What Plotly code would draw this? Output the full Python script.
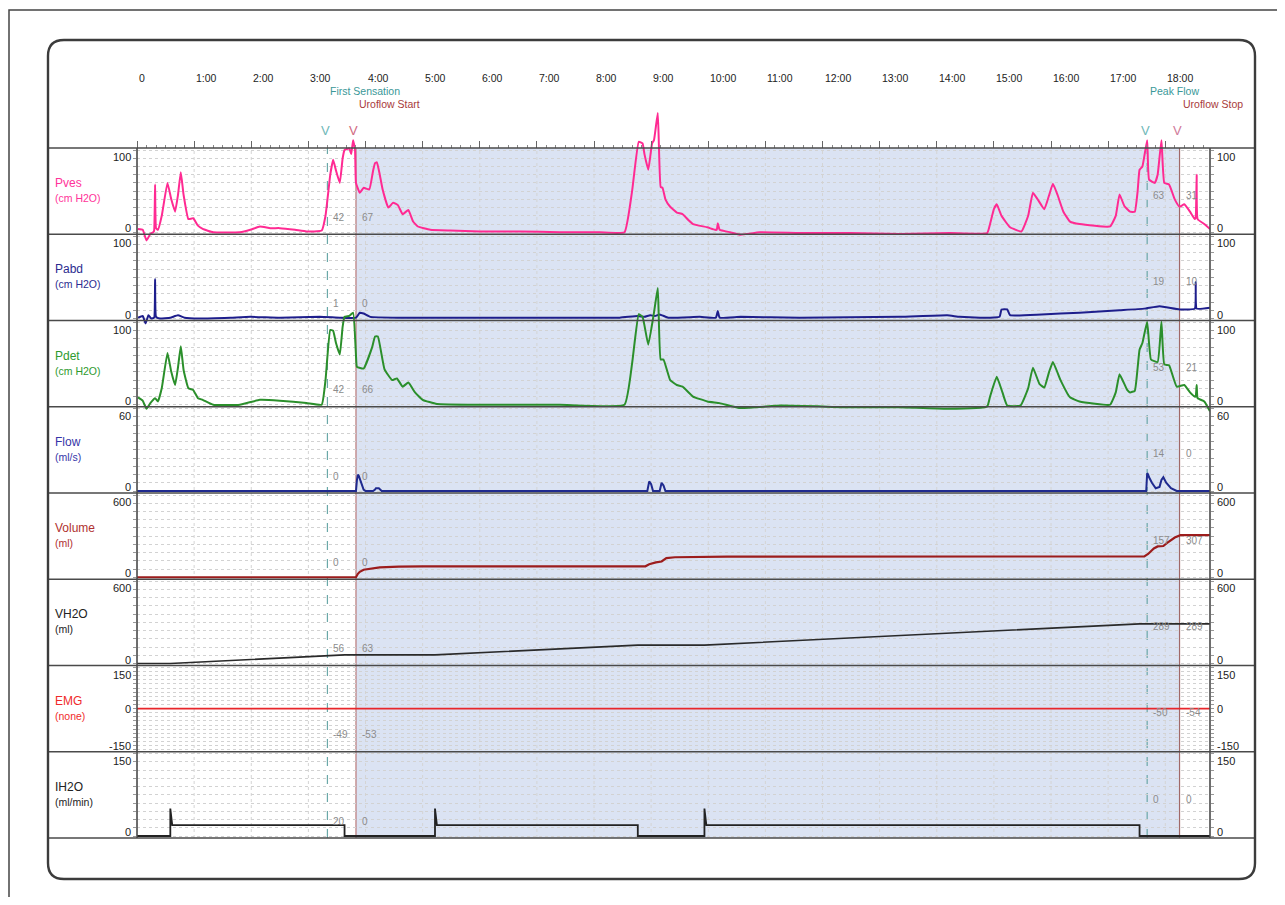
import plotly.graph_objects as go

# ---------------- data (time in seconds) ----------------
time_ticks = [0, 60, 120, 180, 240, 300, 360, 420, 480, 540, 600, 660, 720, 780, 840, 900, 960, 1020, 1080]
time_labels = ["0", "1:00", "2:00", "3:00", "4:00", "5:00", "6:00", "7:00", "8:00", "9:00",
               "10:00", "11:00", "12:00", "13:00", "14:00", "15:00", "16:00", "17:00", "18:00"]
t_end = 1127

channels = ["Pves", "Pabd", "Pdet", "Flow", "Volume", "VH2O", "EMG", "IH2O"]
units = ["(cm H2O)", "(cm H2O)", "(cm H2O)", "(ml/s)", "(ml)", "(ml)", "(none)", "(ml/min)"]
scale_lo = [0, 0, 0, 0, 0, 0, -150, 0]
scale_hi = [100, 100, 100, 60, 600, 600, 150, 150]

event_names = ["First Sensation", "Uroflow Start", "Peak Flow", "Uroflow Stop"]
event_times = [200, 230, 1061, 1095]

pves_marks = [42, 67, 63, 31]
pabd_marks = [1, 0, 19, 10]
pdet_marks = [42, 66, 53, 21]
flow_marks = [0, 0, 14, 0]
volume_marks = [0, 0, 157, 307]
vh2o_marks = [56, 63, 289, 289]
emg_marks = [-49, -53, -50, -54]
ih2o_marks = [20, 0, 0, 0]

pves = [(1,4),(6,3),(10,-10),(14,-2),(17,0),(18,2),(19,58),(20,5),(22,3),(26,20),(32,60),(36,40),(40,25),
        (43,45),(46,73),(49,45),(54,16),(59,17),(64,8),(69,4),(80,0),(108,0),(119,3),(129,7),(140,5),(150,5),
        (166,3),(178,1),(194,2),(198,20),(203,70),(206,88),(209,75),(213,60),(216,90),(218,100),(223,102),
        (225,95),(227,112),(229,100),(230,60),(234,48),(238,54),(244,52),(248,75),(250,84),(252,85),(255,70),
        (258,52),(264,30),(269,36),(274,33),(279,22),(285,27),(290,13),(295,7),(308,3),(329,2),(360,1),(402,1),
        (444,0),(486,0),(512,0),(520,50),(527,110),(531,108),(533,95),(537,76),(541,108),(543,112),(547,145),
        (550,55),(552,54),(555,40),(560,31),(567,24),(573,22),(579,15),(584,10),(599,6),(607,3),(609,3),(610,11),
        (612,3),(623,0),(634,-3),(654,0),(696,-1),(749,-1),(801,-2),(854,-1),(893,-1),(896,10),(900,28),(903,34),
        (908,20),(917,6),(929,1),(936,20),(941,48),(946,40),(953,28),(958,45),(962,59),(967,45),(973,25),(980,13),
        (990,10),(1022,7),(1028,20),(1032,46),(1037,32),(1043,25),(1048,25),(1051,50),(1053,76),(1056,80),
        (1061,112),(1063,64),(1069,60),(1072,70),(1076,112),(1079,60),(1084,58),(1090,40),(1095,31),(1100,34),
        (1106,25),(1111,16),(1112,18),(1113,70),(1114,16),(1121,10),(1127,4)]

pabd = [(1,1),(6,3),(9,-6),(12,4),(15,0),(18,1),(19,48),(20,2),(24,0),(35,1),(43,4),(50,1),(66,0),(98,1),
        (119,2),(150,1),(192,2),(213,1),(230,1),(234,7),(238,6),(245,2),(276,1),(329,1),(434,1),(507,1),(526,3),
        (533,2),(539,4),(544,3),(549,5),(558,1),(591,2),(608,1),(610,9),(612,1),(634,2),(696,1),(801,2),(851,4),
        (864,2),(896,1),(906,2),(908,11),(914,11),(917,4),(950,5),(990,7),(1032,10),(1058,12),(1074,15),
        (1095,11),(1111,12),(1112,44),(1113,12),(1127,13)]

pdet = [(1,9),(6,5),(10,-5),(14,2),(19,8),(22,4),(26,20),(32,63),(36,40),(40,24),(43,45),(46,71),(49,42),
        (54,20),(59,18),(64,8),(69,6),(80,0),(108,0),(129,6),(150,5),(178,2),(194,0),(198,30),(203,91),(206,90),
        (209,75),(213,61),(216,95),(218,107),(223,108),(227,112),(230,60),(231,46),(238,44),(247,70),(250,83),
        (253,83),(260,43),(268,30),(273,32),(279,22),(285,27),(292,15),(300,6),(315,1),(360,0),(444,0),(512,0),
        (520,50),(527,110),(531,107),(537,73),(543,112),(547,142),(550,55),(553,55),(560,30),(567,24),(573,22),
        (584,10),(599,4),(612,2),(634,-4),(677,-1),(749,-3),(801,-3),(851,-5),(893,-2),(896,10),(903,34),
        (909,15),(914,-1),(928,-1),(936,20),(941,45),(948,25),(953,21),(958,40),(962,52),(970,30),(980,9),
        (990,4),(1022,0),(1028,15),(1032,37),(1040,18),(1043,15),(1048,17),(1051,45),(1053,67),(1056,75),
        (1061,101),(1065,55),(1072,52),(1076,101),(1079,49),(1084,48),(1092,22),(1100,24),(1106,15),(1111,10),
        (1112,10),(1113,24),(1114,8),(1121,4),(1127,-8)]

flow = [(0,0),(229,0),(230,0),(231,8),(232,12),(233,11),(234,9),(236,4),(238,1),(240,0),(248,0),(250,1),
        (251,2),(254,2),(257,0),(536,0),(537,5),(538,7),(540,5),(542,0),(549,0),(550,4),(551,6),(553,4),
        (555,0),(1060,0),(1061,13),(1062,12),(1063,10),(1066,6),(1070,2),(1074,3),(1076,8),(1078,10),(1081,6),
        (1086,2),(1092,0),(1127,0)]

volume = [(0,0),(230,0),(232,25),(234,40),(238,55),(245,60),(255,72),(275,78),(300,80),(534,80),(538,95),
          (545,108),(551,115),(556,140),(565,146),(620,150),(1058,152),(1062,170),(1068,210),(1072,225),
          (1078,228),(1082,250),(1090,290),(1096,307),(1127,307)]

vh2o = [(0,0),(35,0),(218,63),(313,63),(526,134),(596,134),(1053,289),(1127,289)]

emg = [(0,0),(1127,0)]

ih2o = [(0,0),(35,0),(35,50),(37,20),(218,20),(218,0),(313,0),(313,50),(315,20),(526,20),(526,0),(596,0),
        (596,50),(598,20),(1053,20),(1053,0),(1127,0)]

series = [pves, pabd, pdet, flow, volume, vh2o, emg, ih2o]
marks = [pves_marks, pabd_marks, pdet_marks, flow_marks, volume_marks, vh2o_marks, emg_marks, ih2o_marks]

# ---------------- styles / geometry (screen pixels) ----------------
W, H = 1285, 905
O = 8                                      # page body margin
PL, PR, PT, PB = 137, 1210, 100, 838      # plot area (screen px)
GT = 148                                   # top of first channel panel
PH = (PB - GT) / 8.0
FL, FR, FT, FB = 48, 1255, 40, 879         # rounded frame

trace_colors = ["#ff2a92", "#1e1e8c", "#2b8f2b", "#1f2a8f", "#9c1c1c", "#2a2a2a", "#e8262b", "#222222"]
trace_widths = [2, 2, 2, 2, 2.2, 1.6, 1.8, 1.8]
trace_shape = ["spline", "spline", "spline", "linear", "linear", "linear", "linear", "linear"]
label_colors = ["#ff3399", "#2b2b8f", "#2e9a2e", "#3535a8", "#b0302f", "#222222", "#f02a2a", "#222222"]
grid_steps = [10, 10, 10, 10, 10, 10, 20, 10]
event_text_colors = ["#3a9898", "#a83a3a", "#3a9898", "#a83a3a"]
event_v_colors = ["#6fb8b8", "#d06a82", "#6fb8b8", "#d07a9a"]
event_line_colors = ["#6aa8a8", "#b87878", "#6aa8a8", "#a06868"]
event_dash = ["dash", "solid", "dash", "solid"]
FONT = "Arial, 'Liberation Sans', sans-serif"

WF, HF = W - 2 * O, H - 2 * O


def px_x(px):
    return (px - PL) / (PR - PL)


def px_y(py):
    return (PB - py) / (PB - PT)


fig = go.Figure()
layout = dict(width=WF, height=HF,
              margin=dict(l=PL - O, r=WF - (PR - O), t=PT - O, b=HF - (PB - O), pad=0),
              paper_bgcolor="white", plot_bgcolor="rgba(0,0,0,0)", showlegend=False,
              font=dict(family=FONT, size=11, color="#222"))

for i, data in enumerate(series):
    tt = [p[0] for p in data]
    vv = [p[1] for p in data]
    yname = "y" if i == 0 else "y%d" % (i + 1)
    ln = dict(color=trace_colors[i], width=trace_widths[i], shape=trace_shape[i])
    if trace_shape[i] == "spline":
        ln["smoothing"] = 0.35
    fig.add_trace(go.Scatter(x=tt, y=vv, mode="lines", yaxis=yname, xaxis="x", line=ln,
                             hoverinfo="skip"))
    lo, hi = scale_lo[i], scale_hi[i]
    T = GT + i * PH
    B = T + PH
    s = (hi - lo) / ((B - 2) - (T + 2))
    r0 = lo - (PB - (B - 2)) * s
    r1 = hi + ((T + 2) - PT) * s
    n = grid_steps[i]
    tv = [lo + k * (hi - lo) / n for k in range(n + 1)]
    ax = dict(domain=[0, 1], range=[r0, r1], anchor="x", side="left", tickmode="array", tickvals=tv,
              showticklabels=False, ticks="outside", ticklen=3, tickcolor="#999", mirror="ticks",
              showgrid=True, gridcolor="#d2d2d2", griddash="3px,3px", gridwidth=1,
              zeroline=False, showline=False, fixedrange=True)
    if i > 0:
        ax["overlaying"] = "y"
    layout["yaxis" if i == 0 else "yaxis%d" % (i + 1)] = ax

layout["xaxis"] = dict(domain=[0, 1], range=[0, t_end], anchor="free", position=px_y(GT), side="top",
                       tickmode="linear", tick0=0, dtick=60, ticks="outside", ticklen=7, tickcolor="#666",
                       showticklabels=False, showgrid=False, zeroline=False, showline=False,
                       minor=dict(tickmode="linear", tick0=0, dtick=10, ticks="outside", ticklen=3,
                                  tickcolor="#888", showgrid=False),
                       fixedrange=True)
fig.update_layout(**layout)

shapes = []
shapes.append(dict(type="rect", xref="x", yref="paper", x0=event_times[1], x1=event_times[3],
                   y0=0, y1=px_y(GT), fillcolor="#dbe3f3", line=dict(width=0), layer="below"))
for tk in time_ticks:
    shapes.append(dict(type="line", xref="x", yref="paper", x0=tk, x1=tk, y0=0, y1=px_y(GT),
                       line=dict(color="#d4d4d4", width=1, dash="dot"), layer="below"))
for k, te in enumerate(event_times):
    shapes.append(dict(type="line", xref="x", yref="paper", x0=te, x1=te, y0=0, y1=px_y(GT),
                       line=dict(color=event_line_colors[k], width=1.2, dash=event_dash[k]), layer="below"))
for k in range(9):
    yy = px_y(GT + k * PH)
    shapes.append(dict(type="line", xref="paper", yref="paper", x0=px_x(FL), x1=px_x(FR), y0=yy, y1=yy,
                       line=dict(color="#4a4a4a", width=1.6), layer="above"))
for xx in (PL, PR):
    shapes.append(dict(type="line", xref="paper", yref="paper", x0=px_x(xx), x1=px_x(xx),
                       y0=px_y(GT), y1=0, line=dict(color="#4a4a4a", width=1.6), layer="above"))


def rrect(x0, y0, x1, y1, r):
    X, Y = px_x, px_y
    return ("M %f,%f L %f,%f Q %f,%f %f,%f L %f,%f Q %f,%f %f,%f L %f,%f Q %f,%f %f,%f L %f,%f Q %f,%f %f,%f Z" % (
        X(x0 + r), Y(y0), X(x1 - r), Y(y0), X(x1), Y(y0), X(x1), Y(y0 + r),
        X(x1), Y(y1 - r), X(x1), Y(y1), X(x1 - r), Y(y1),
        X(x0 + r), Y(y1), X(x0), Y(y1), X(x0), Y(y1 - r),
        X(x0), Y(y0 + r), X(x0), Y(y0), X(x0 + r), Y(y0)))


shapes.append(dict(type="path", xref="paper", yref="paper", path=rrect(FL, FT, FR, FB, 16),
                   line=dict(color="#3c3c3c", width=2.4), layer="above"))
shapes.append(dict(type="rect", xref="paper", yref="paper", x0=px_x(9), x1=px_x(1300), y0=px_y(10),
                   y1=px_y(930), line=dict(color="#444", width=1.5), layer="above"))
fig.update_layout(shapes=shapes)

ann = []
for tk, lab in zip(time_ticks, time_labels):
    ann.append(dict(x=tk, xref="x", y=px_y(78), yref="paper", text=lab, showarrow=False,
                    xanchor="left", yanchor="middle", font=dict(size=10.5, color="#222")))
for k, (nm, te) in enumerate(zip(event_names, event_times)):
    ann.append(dict(x=te, xref="x", y=px_y(91 if k % 2 == 0 else 104), yref="paper", text=nm,
                    showarrow=False, xanchor="left", yanchor="middle", xshift=1,
                    font=dict(size=10.5, color=event_text_colors[k])))
    ann.append(dict(x=te, xref="x", y=px_y(131), yref="paper", text="V", showarrow=False,
                    xanchor="center", yanchor="middle", xshift=-2,
                    font=dict(size=13, color=event_v_colors[k])))
for i in range(8):
    T = GT + i * PH
    B = T + PH
    ann.append(dict(x=px_x(53), xref="paper", y=px_y(T + 35), yref="paper", text=channels[i],
                    showarrow=False, xanchor="left", yanchor="middle",
                    font=dict(size=12, color=label_colors[i])))
    ann.append(dict(x=px_x(53), xref="paper", y=px_y(T + 50), yref="paper", text=units[i],
                    showarrow=False, xanchor="left", yanchor="middle",
                    font=dict(size=10.5, color=label_colors[i])))
    lab = [(str(scale_hi[i]), T + 9)]
    if scale_lo[i] < 0:
        lab.append(("0", T + PH / 2))
    lab.append((str(scale_lo[i]), B - 6))
    for txt, py in lab:
        ann.append(dict(x=px_x(133), xref="paper", y=px_y(py), yref="paper", text=txt, showarrow=False,
                        xanchor="right", yanchor="middle", font=dict(size=11, color="#222")))
        ann.append(dict(x=px_x(1215), xref="paper", y=px_y(py), yref="paper", text=txt, showarrow=False,
                        xanchor="left", yanchor="middle", font=dict(size=11, color="#222")))
    for k, te in enumerate(event_times):
        py = B - 17 if k < 2 else B - 39
        ann.append(dict(x=te, xref="x", y=px_y(py), yref="paper", text=str(marks[i][k]), showarrow=False,
                        xanchor="left", yanchor="middle", xshift=4,
                        font=dict(size=10, color="#8c8c8c")))
fig.update_layout(annotations=ann)

fig.write_html("out.html")
